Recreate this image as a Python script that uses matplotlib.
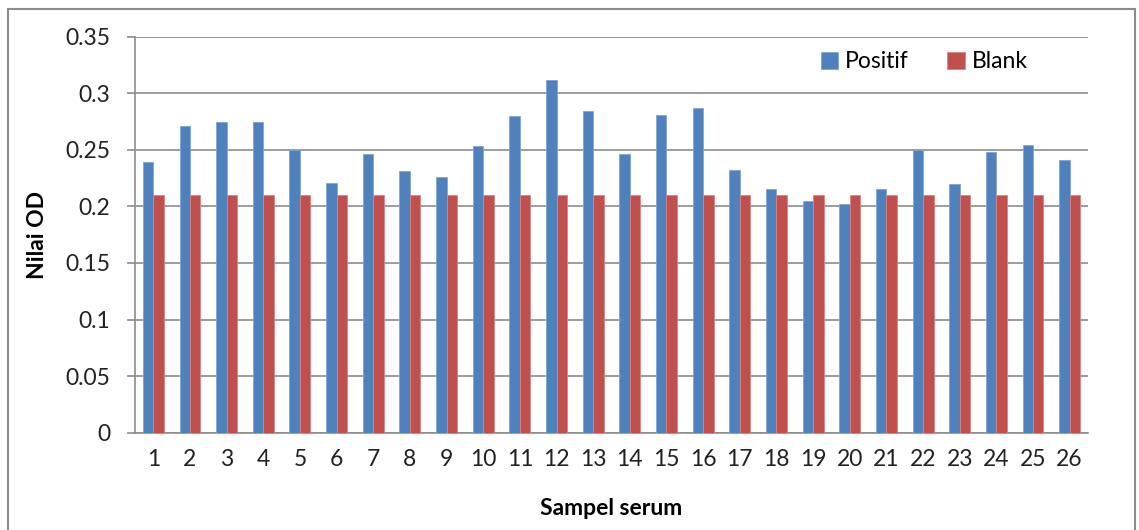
import matplotlib
matplotlib.use("Agg")
import matplotlib.pyplot as plt
import numpy as np
from matplotlib.patches import Rectangle

plt.rcParams['font.family'] = ['Lato', 'DejaVu Sans']

samples = [str(i) for i in range(1, 27)]
positif = [0.239, 0.271, 0.275, 0.275, 0.250, 0.221, 0.246, 0.231, 0.226, 0.253,
           0.280, 0.312, 0.284, 0.246, 0.281, 0.287, 0.232, 0.215, 0.205, 0.202,
           0.215, 0.250, 0.220, 0.248, 0.254, 0.241]
blank = [0.21] * 26

fig = plt.figure(figsize=(11.39, 5.30), dpi=100)
ax = fig.add_axes([135 / 1139, 1 - 432.7 / 530, (1088 - 135) / 1139, (432.7 - 36.7) / 530])

# outer chart border
fig.patches.append(Rectangle((8 / 1139, -0.01), (1135 - 8) / 1139, 1 - 9 / 530 + 0.01,
                             transform=fig.transFigure, fill=False,
                             edgecolor='#8c8c8c', linewidth=1.5))

x = np.arange(len(samples))
w = 1 / 3.5
ax.bar(x - w / 2, positif, w, color='#4F81BD', edgecolor='#7fa4d4', linewidth=0.6,
       label='Positif', zorder=3)
ax.bar(x + w / 2, blank, w, color='#C0504D', edgecolor='#d68582', linewidth=0.6,
       label='Blank', zorder=3)

ax.set_xlim(-0.5, len(samples) - 0.5)
ax.set_ylim(0, 0.35)
ax.set_yticks(np.arange(0, 0.351, 0.05))
ax.set_yticklabels(['0', '0.05', '0.1', '0.15', '0.2', '0.25', '0.3', '0.35'])
ax.set_xticks(x)
ax.set_xticklabels(samples)

ax.grid(axis='y', color='#8c8c8c', linewidth=1.2, zorder=0)
for s in ['top', 'right']:
    ax.spines[s].set_visible(False)
for s in ['left', 'bottom']:
    ax.spines[s].set_color('#8c8c8c')
    ax.spines[s].set_linewidth(1.2)

fs = 16.5
ax.tick_params(axis='y', length=6, color='#8c8c8c', width=1.2, pad=12,
               labelsize=fs, labelcolor='#222222')
ax.tick_params(axis='x', length=0, pad=12, labelsize=fs, labelcolor='#222222')

ax.set_ylabel('Nilai OD', fontsize=fs, fontweight='bold', labelpad=12)
ax.set_xlabel('Sampel serum', fontsize=fs, fontweight='bold', labelpad=20)

ax.legend(loc='center', bbox_to_anchor=(0.828, 0.937), ncol=2, frameon=False,
          fontsize=fs, handlelength=0.75, handleheight=0.75, columnspacing=1.7,
          handletextpad=0.3)

fig.savefig('out.png', dpi=100)
